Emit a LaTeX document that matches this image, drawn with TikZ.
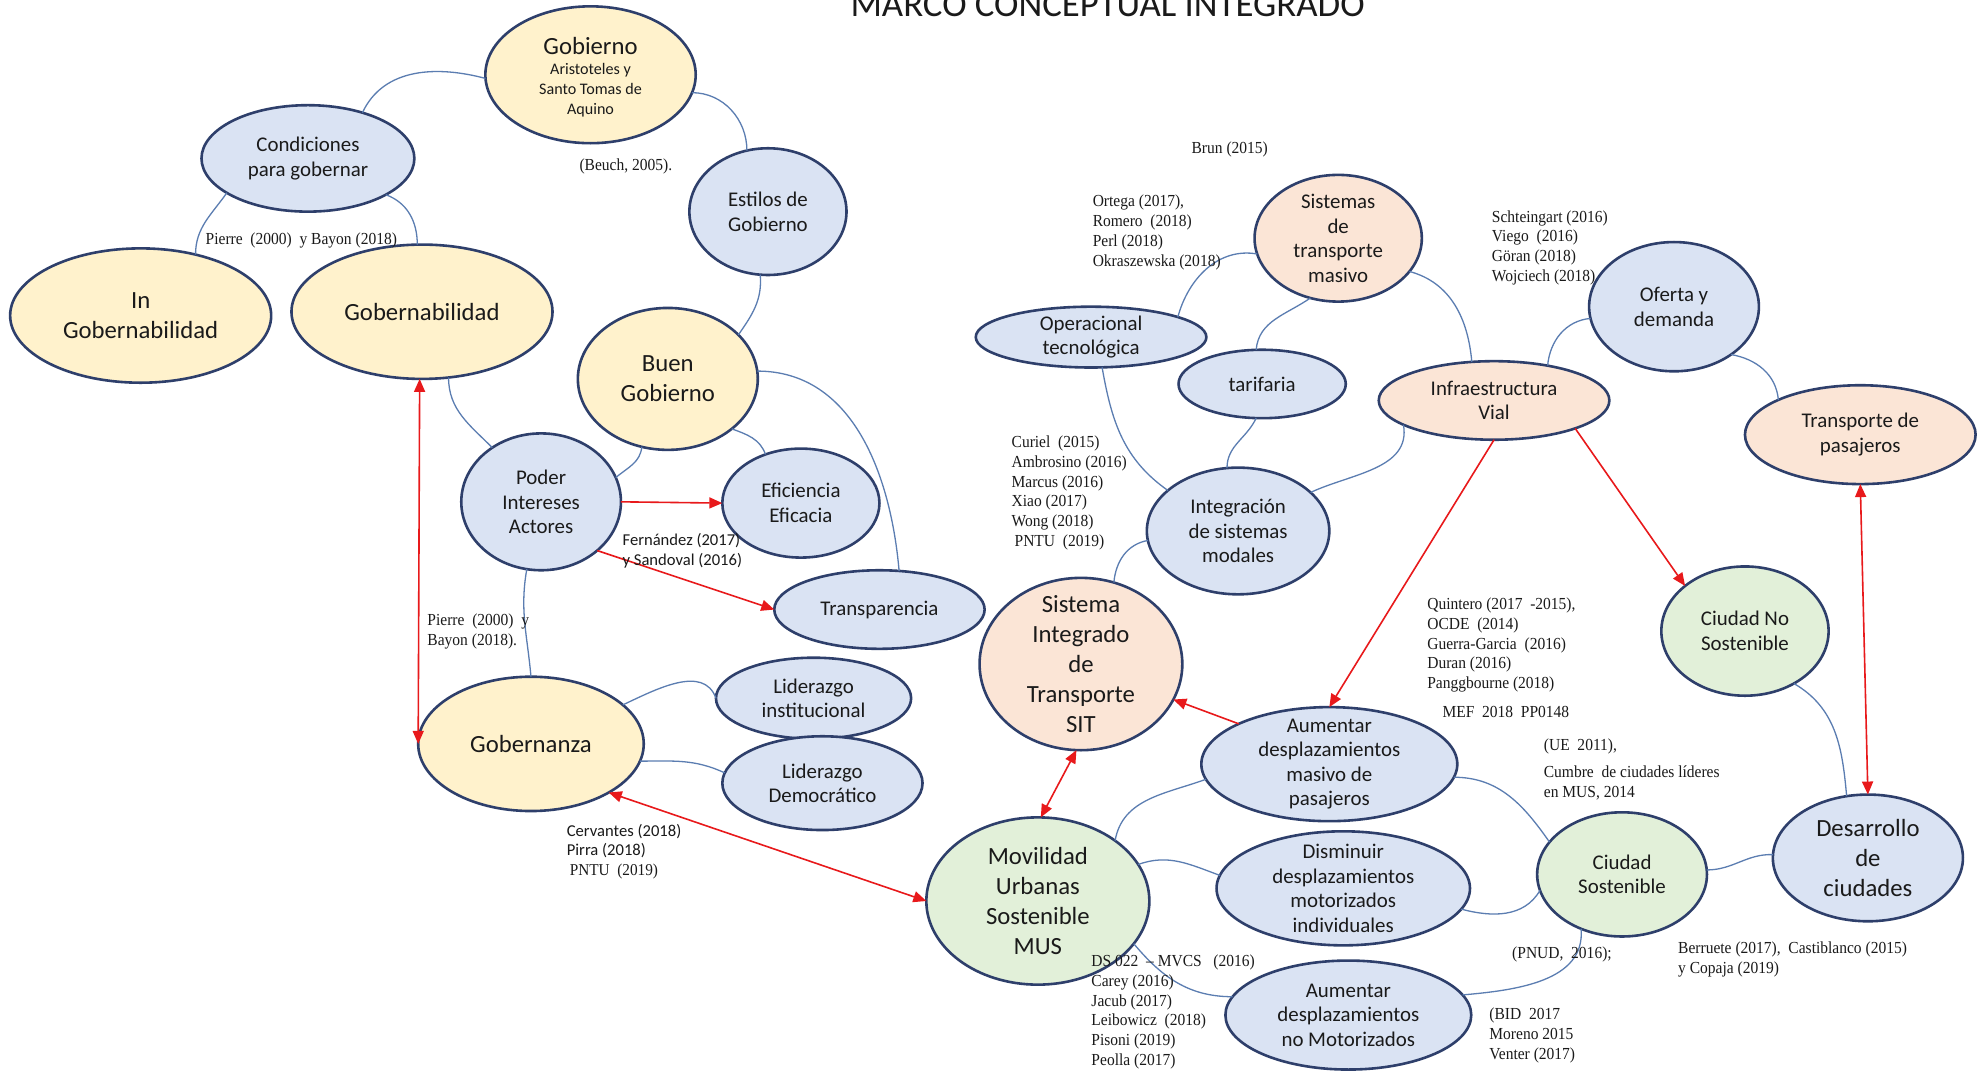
\documentclass[tikz,border=0pt]{standalone}
\usepackage{fontspec}
\setmainfont{Carlito}
\newfontfamily\reffont[FakeStretch=0.92]{Liberation Serif}
\usetikzlibrary{shapes.geometric,arrows.meta}
\definecolor{cyel}{HTML}{FFF2CC}
\definecolor{cblu}{HTML}{DAE3F3}
\definecolor{cpea}{HTML}{FBE5D6}
\definecolor{cgre}{HTML}{E2F0D9}
\definecolor{cbord}{HTML}{2E3F6B}
\definecolor{clink}{HTML}{5B7DB1}
\definecolor{cred}{HTML}{E8191B}
\definecolor{ctxt}{HTML}{1A1A1A}
\tikzset{
  ell/.style={ellipse, draw=cbord, line width=1.3pt, inner sep=0pt, outer sep=0pt},
  sz/.style 2 args={minimum width=#1*1.2672pt, minimum height=#2*1.2672pt},
  yel/.style={ell, fill=cyel},
  blu/.style={ell, fill=cblu},
  pea/.style={ell, fill=cpea},
  gre/.style={ell, fill=cgre},
  big/.style={align=center, inner sep=0pt, text=ctxt, font=\fontsize{12.36}{14.9}\selectfont},
  nrm/.style={align=center, inner sep=0pt, text=ctxt, font=\fontsize{10.45}{12.3}\selectfont},
  sml/.style={align=center, inner sep=0pt, text=ctxt, font=\fontsize{8.05}{10.1}\selectfont},
  refT/.style={align=left, anchor=west, inner sep=0pt, text=ctxt, font=\reffont\fontsize{8.43}{9.9}\selectfont},
  refC/.style={align=left, anchor=west, inner sep=0pt, text=ctxt, font=\fontsize{8.3}{9.8}\selectfont},
  link/.style={draw=clink, line width=0.65pt},
  rarr/.style={draw=cred, line width=0.8pt, -{Triangle[length=6.5pt,width=5.5pt]}},
  rboth/.style={draw=cred, line width=0.8pt, {Triangle[length=6.5pt,width=5.5pt]}-{Triangle[length=6.5pt,width=5.5pt]}},
}
\begin{document}
\begin{tikzpicture}[x=0.6336pt, y=-0.6336pt]
\useasboundingbox[fill=white] (0,0) rectangle (1568,846);

% title (cut at the top)
\node[anchor=base, inner sep=0pt, text=ctxt, font=\fontsize{18.4}{22}\selectfont] (title) at (874,13) {MARCO CONCEPTUAL INTEGRADO};

% ellipses
\node[yel, sz={83}{54}] (gob) at (466,59) {};
\node[blu, sz={84}{42}] (cond) at (243,125) {};
\node[blu, sz={62}{50}] (est) at (606,167) {};
\node[yel, sz={103}{53}] (ingob) at (111,249) {};
\node[yel, sz={103}{53}] (gobab) at (333,246) {};
\node[yel, sz={71}{56}] (buen) at (527,299) {};
\node[blu, sz={63}{54}] (poder) at (427,396) {};
\node[blu, sz={62}{43}] (efic) at (632,397) {};
\node[blu, sz={83}{31}] (transp) at (694,481) {};
\node[yel, sz={89}{53}] (gobza) at (419,587) {};
\node[blu, sz={77}{32}] (lidi) at (642,551) {};
\node[blu, sz={79}{37}] (lidd) at (649,618) {};
\node[gre, sz={88}{66}] (mus) at (819,711) {};
\node[pea, sz={80}{68}] (sit) at (853,524) {};
\node[blu, sz={72}{50}] (integ) at (977,419) {};
\node[blu, sz={91}{24}] (oper) at (861,266) {};
\node[blu, sz={66}{27}] (tarif) at (996,303) {};
\node[pea, sz={66}{50}] (stm) at (1056,188) {};
\node[pea, sz={91}{31}] (infra) at (1179,316) {};
\node[blu, sz={67}{51}] (oferta) at (1321,242) {};
\node[pea, sz={91}{39}] (tpas) at (1468,343) {};
\node[gre, sz={66}{51}] (cns) at (1377,498) {};
\node[blu, sz={75}{50}] (desa) at (1474,677) {};
\node[gre, sz={67}{49}] (cs) at (1280,690) {};
\node[blu, sz={101}{45}] (amas) at (1049,603) {};
\node[blu, sz={100}{45}] (dism) at (1060,701) {};
\node[blu, sz={97}{43}] (anm) at (1064,801) {};

% texts in ellipses
\node[big] (gob-t1) at (466,36) {Gobierno};
\node[sml] (gob-t2) at (466,71) {Aristoteles y\\Santo Tomas de\\Aquino};
\node[nrm] (cond-t) at (cond) {Condiciones\\para gobernar};
\node[nrm] (est-t) at (est) {Estilos de\\Gobierno};
\node[big] (ingob-t) at (ingob) {In\\Gobernabilidad};
\node[big] (gobab-t) at (gobab) {Gobernabilidad};
\node[big] (buen-t) at (buen) {Buen\\Gobierno};
\node[nrm] (poder-t) at (poder) {Poder\\Intereses\\Actores};
\node[nrm] (efic-t) at (efic) {Eficiencia\\Eficacia};
\node[nrm] (transp-t) at (transp) {Transparencia};
\node[big] (gobza-t) at (gobza) {Gobernanza};
\node[nrm] (lidi-t) at (lidi) {Liderazgo\\institucional};
\node[nrm] (lidd-t) at (lidd) {Liderazgo\\Democrático};
\node[big] (mus-t) at (mus) {Movilidad\\Urbanas\\Sostenible\\MUS};
\node[big] (sit-t) at (sit) {Sistema\\Integrado\\de\\Transporte\\SIT};
\node[nrm] (integ-t) at (integ) {Integración\\de sistemas\\modales};
\node[nrm] (oper-t) at (oper) {Operacional\\tecnológica};
\node[nrm] (tarif-t) at (tarif) {tarifaria};
\node[nrm] (stm-t) at (stm) {Sistemas\\de\\transporte\\masivo};
\node[nrm] (infra-t) at (infra) {Infraestructura\\Vial};
\node[nrm] (oferta-t) at (oferta) {Oferta y\\demanda};
\node[nrm] (tpas-t) at (tpas) {Transporte de\\pasajeros};
\node[nrm] (cns-t) at (cns) {Ciudad No\\Sostenible};
\node[big] (desa-t) at (desa) {Desarrollo\\de\\ciudades};
\node[nrm] (cs-t) at (cs) {Ciudad\\Sostenible};
\node[nrm] (amas-t) at (amas) {Aumentar\\desplazamientos\\masivo de\\pasajeros};
\node[nrm] (dism-t) at (dism) {Disminuir\\desplazamientos\\motorizados\\individuales};
\node[nrm] (anm-t) at (anm) {Aumentar\\desplazamientos\\no Motorizados};

% blue links
\draw[link] (cond.40) to[out=65,in=165] (gob.182);
\draw[link] (gob.-10) to[out=0,in=90] (est.109);
\draw[link] (cond.203) to[out=235,in=90] (ingob.48);
\draw[link] (cond.-25) to[out=-20,in=90] (gobab.94);
\draw[link] (est.263) to[out=-85,in=55] (buen.32);
\draw[link] (gobab.292) to[out=-90,in=135] (poder.132);
\draw[link] (buen.249) to[out=-95,in=40] (poder.18);
\draw[link] (buen.-38) to[out=-20,in=110] (efic.126);
\draw[link] (buen.5) to[out=0,in=95] (transp.63);
\draw[link] (poder.258) to[out=-100,in=95] (gobza.90);
\draw[link] (gobza.23) to[out=25,in=110] (lidi.180);
\draw[link] (gobza.-9) to[out=0,in=155] (lidd.174);
\draw[link] (oper.13) to[out=75,in=170] (stm.191);
\draw[link] (tarif.100) to[out=85,in=215] (stm.245);
\draw[link] (oper.-70) to[out=-80,in=145] (integ.150);
\draw[link] (tarif.-100) to[out=-115,in=90] (integ.100);
\draw[link] (infra.195) to[out=-80,in=25] (integ.28);
\draw[link] (stm.-25) to[out=-15,in=95] (infra.120);
\draw[link] (infra.33) to[out=85,in=185] (oferta.188);
\draw[link] (oferta.-40) to[out=-10,in=95] (tpas.157);
\draw[link] (integ.186) to[out=190,in=85] (sit.68);
\draw[link] (cns.-47) to[out=-30,in=95] (desa.109);
\draw[link] (cs.3) to[out=0,in=178] (desa.178);
\draw[link] (amas.-6) to[out=0,in=125] (cs.156);
\draw[link] (dism.-10) to[out=-15,in=240] (cs.191);
\draw[link] (anm.10) to[out=5,in=-85] (cs.233);
\draw[link] (mus.38) to[out=80,in=200] (amas.187);
\draw[link] (mus.20) to[out=20,in=160] (dism.174);
\draw[link] (mus.-24) to[out=-50,in=180] (anm.171);

% red arrows
\draw[rboth] (gobab.268) -- (gobza.180);
\draw[rarr] (poder.0) -- (efic.180);
\draw[rarr] (poder.-41) -- (transp.180);
\draw[rboth] (gobza.-32) -- (mus.180);
\draw[rboth] (sit.267) -- (mus.88);
\draw[rarr] (amas.156) -- (sit.-21);
\draw[rarr] (infra.270) -- (amas.90);
\draw[rarr] (infra.-19) -- (cns.143);
\draw[rboth] (tpas.270) -- (desa.90);

% references
\node[refT] (r-beuch) at (457,131) {(Beuch, 2005).};
\node[refT] (r-pierre1) at (162,190) {Pierre\ \ (2000)\ \ y Bayon (2018)};
\node[refT] (r-brun) at (940,118) {Brun (2015)};
\node[refT] (r-ortega) at (862,183.5) {Ortega (2017),\\Romero\ \ (2018)\\Perl (2018)\\Okraszewska\ (2018)};
\node[refT] (r-schte) at (1177,195.5) {Schteingart (2016)\\Viego\ \ (2016)\\Göran (2018)\\Wojciech (2018)};
\node[refT] (r-curiel) at (798,389) {Curiel\ \ (2015)\\Ambrosino (2016)\\Marcus (2016)\\Xiao (2017)\\Wong (2018)\\\hspace*{1.5pt}PNTU\ \ (2019)};
\node[refC] (r-fern) at (491,434.5) {Fernández (2017)\\y Sandoval (2016)};
\node[refT] (r-pierre2) at (337,498) {Pierre\ \ (2000)\ \ y\\Bayon (2018).};
\node[refC] (r-cerv) at (447,672) {Cervantes (2018)\\Pirra (2018)\\\hspace*{1.5pt}{\reffont PNTU\ \ (2019)}};
\node[refT] (r-quint) at (1126,509) {Quintero (2017\ \ -2015),\\OCDE\ \ (2014)\\Guerra-Garcia\ \ (2016)\\Duran (2016)\\Panggbourne (2018)};
\node[refT] (r-mef) at (1138,562) {MEF\ \ 2018\ \ PP0148};
\node[refT] (r-ue) at (1218,589) {(UE\ \ 2011),};
\node[refT] (r-cumbre) at (1218,618) {Cumbre\ \ de ciudades líderes\\en MUS, 2014};
\node[refT] (r-pnud) at (1193,753) {(PNUD,\ \ 2016);};
\node[refT] (r-berr) at (1324,757) {Berruete (2017),\ \ Castiblanco (2015)\\y Copaja (2019)};
\node[refT] (r-ds) at (861,798.5) {DS 022\ \ – MVCS\ \ \ (2016)\\Carey (2016)\\Jacub (2017)\\Leibowicz\ \ (2018)\\Pisoni (2019)\\Peolla (2017)};
\node[refT] (r-bid) at (1175,817) {(BID\ \ 2017\\Moreno 2015\\Venter (2017)};
\end{tikzpicture}
\end{document}
